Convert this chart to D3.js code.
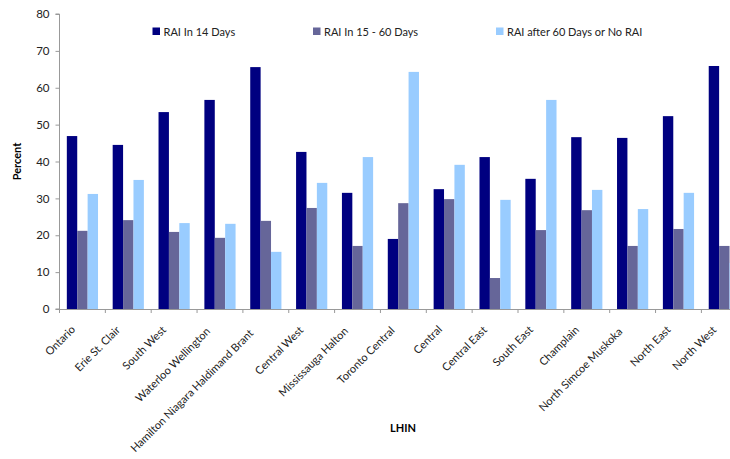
<!DOCTYPE html>
<html><head><meta charset="utf-8">
<script src="https://cdn.jsdelivr.net/npm/d3@7"></script>
<style>body{margin:0;background:#fff}svg{display:block}</style>
</head><body>
<svg id="c" width="730" height="459"></svg>
<script>
const categories = ["Ontario","Erie St. Clair","South West","Waterloo Wellington","Hamilton Niagara Haldimand Brant","Central West","Mississauga Halton","Toronto Central","Central","Central East","South East","Champlain","North Simcoe Muskoka","North East","North West"];
const seriesNames = ["RAI In 14 Days","RAI In 15 - 60 Days","RAI after 60 Days or No RAI"];
const rai14 = [46.9,44.5,53.4,56.7,65.6,42.6,31.5,19.0,32.5,41.2,35.3,46.6,46.4,52.3,65.9];
const rai15to60 = [21.2,24.1,20.9,19.3,23.9,27.4,17.1,28.7,29.8,8.4,21.4,26.8,17.1,21.7,17.1];
const raiAfter60 = [31.2,35.0,23.3,23.1,15.5,34.2,41.2,64.3,39.1,29.6,56.7,32.3,27.1,31.5,12.5];
const yTicks = [0,10,20,30,40,50,60,70,80];
const colors = ["#000080","#666699","#99CCFF"];

(function(){
const series = [rai14, rai15to60, raiAfter60];
const font = "Lato, 'Open Sans', sans-serif";
const fs = "11px";
const svg = d3.select("#c");
const pLeft = 59.5, pBottom = 309, pTop = 14, step = 45.85;
const x0 = d3.scaleBand().domain(categories).range([pLeft, pLeft + step*categories.length]).padding(0);
const x1 = d3.scaleBand().domain(seriesNames).range([0, x0.bandwidth()]).paddingInner(0).paddingOuter(0.705);
const y = d3.scaleLinear().domain([0,80]).range([pBottom, pTop]);

const g = svg.append("g");
categories.forEach((c,i)=>{
  series.forEach((s,j)=>{
    g.append("rect")
      .attr("x", x0(c)+x1(seriesNames[j]))
      .attr("y", y(s[i]))
      .attr("width", x1.bandwidth())
      .attr("height", y(0)-y(s[i]))
      .attr("fill", colors[j]);
  });
});

const yAxis = svg.append("g").attr("transform",`translate(${pLeft},0)`)
  .call(d3.axisLeft(y).tickValues(yTicks).tickSize(4).tickPadding(6));
yAxis.select(".domain").attr("stroke","#999").attr("d",`M-4,${pTop}H0V${pBottom}H-4`);
yAxis.selectAll(".tick line").attr("stroke","#999");
yAxis.selectAll("text").attr("font-family",font).attr("font-size","11.5px").attr("fill","#222");

const xAxis = svg.append("g").attr("transform",`translate(0,${pBottom})`)
  .call(d3.axisBottom(x0).tickSize(0).tickFormat(""));
xAxis.select(".domain").attr("stroke","#999");
const bounds = d3.range(categories.length+1).map(i=>pLeft+i*step);
xAxis.selectAll(".bt").data(bounds).enter().append("line")
  .attr("x1",d=>d).attr("x2",d=>d).attr("y1",0).attr("y2",4).attr("stroke","#999");
xAxis.selectAll(".tick text").remove();
svg.append("g").selectAll("text").data(categories).enter().append("text")
  .attr("text-anchor","end")
  .attr("font-family",font).attr("font-size",fs).attr("fill","#222")
  .text(d=>d)
  .each(function(d){
    const L = this.getComputedTextLength();
    const cx = x0(d)+x0.bandwidth()/2 - 5 - 0.04*L;
    const cy = pBottom + 20 + 0.03*L;
    d3.select(this).attr("transform",`translate(${cx},${cy}) rotate(-45)`);
  });

svg.append("text").attr("transform",`translate(21,${(pTop+pBottom)/2}) rotate(-90)`)
  .attr("text-anchor","middle").attr("font-family",font).attr("font-weight","bold")
  .attr("font-size","11px").attr("fill","#000").text("Percent");
svg.append("text").attr("x",403).attr("y",432)
  .attr("text-anchor","middle").attr("font-family",font).attr("font-weight","bold")
  .attr("font-size","11px").attr("fill","#000").text("LHIN");

const legX = [152.5, 313, 496];
seriesNames.forEach((n,j)=>{
  svg.append("rect").attr("x",legX[j]).attr("y",27.5).attr("width",7.5).attr("height",7.5).attr("fill",colors[j]);
  svg.append("text").attr("x",legX[j]+11).attr("y",35.5)
    .attr("font-family",font).attr("font-size",fs).attr("fill","#222").text(n);
});
})();
</script>
</body></html>
